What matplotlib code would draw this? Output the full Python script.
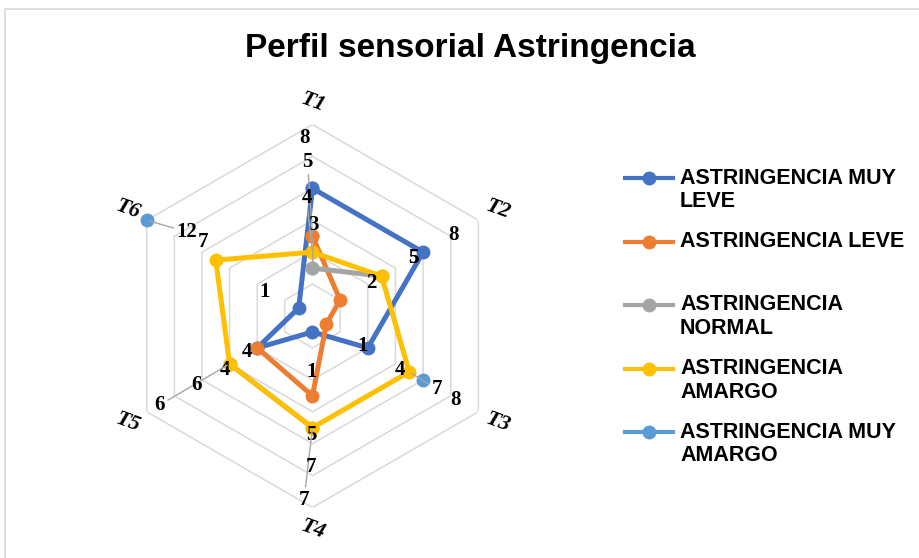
import numpy as np
import matplotlib
matplotlib.use('Agg')
import matplotlib.pyplot as plt
from matplotlib.lines import Line2D
from matplotlib.patches import Rectangle

nan = np.nan
categories = ['T1', 'T2', 'T3', 'T4', 'T5', 'T6']
muy_leve = [8, 8, 4, 1, 4, 1]
leve = [5, 2, 1, 5, 4, nan]
normal = [3, 5, nan, 7, 6, nan]
amargo = [4, 5, 7, 7, 6, 7]
muy_amargo = [nan, nan, 8, nan, nan, 12]

series = [muy_leve, leve, normal, amargo, muy_amargo]
names = ['ASTRINGENCIA MUY\nLEVE', 'ASTRINGENCIA LEVE', 'ASTRINGENCIA\nNORMAL',
         'ASTRINGENCIA\nAMARGO', 'ASTRINGENCIA MUY\nAMARGO']
colors = ['#4472C4', '#ED7D31', '#A5A5A5', '#FFC000', '#5B9BD5']
show_line = [True, True, True, True, False]

# data label placement: (series, category, dx px, dy px, leader line)
label_pos = [
    (0, 0, -7.5, -50, False), (0, 1, 30, -17, False), (0, 2, 32, 22, False),
    (0, 3, -1, 40, False), (0, 4, -10.5, 4, False), (0, 5, -34, -16, False),
    (1, 0, -5, -74.5, True), (1, 1, 31.6, -16.7, False), (1, 2, 36, 21.7, False),
    (1, 3, -1, 39, False), (1, 4, -32, 22, False),
    (2, 0, 1, -43, True), (2, 1, 32, -18, False), (2, 3, -8.5, 72, True),
    (2, 4, -69.6, 41, True),
    (3, 0, -6, -54, True), (3, 1, 31.7, -17.8, False), (3, 2, 27.5, 17.4, True),
    (3, 3, -1, 39, False), (3, 4, -33, 21, False), (3, 5, -13, -18, False),
    (4, 2, 32, 20, False), (4, 5, 40, 11.5, True),
]

W, H = 920, 558
fig = plt.figure(figsize=(9.2, 5.58), dpi=100)
fig.patches.append(Rectangle((5 / W, -0.1), 1.2, 1.1 - 9 / H, transform=fig.transFigure,
                             fill=False, edgecolor='#D9D9D9', lw=1.2))

cx, cy, R = 312.5, 316, 191.5
ax = fig.add_axes([(cx - R) / W, (H - cy - R) / H, 2 * R / W, 2 * R / H], projection='polar')
ax.set_theta_offset(np.pi / 2)
ax.set_theta_direction(-1)
ax.set_ylim(0, 12)
ax.grid(False)
ax.spines['polar'].set_visible(False)
ax.set_xticks([])
ax.set_yticks([])
ax.patch.set_alpha(0)

angles = np.arange(6) * 2 * np.pi / 6
ang_closed = np.append(angles, angles[0])

for r in range(2, 13, 2):
    ax.plot(ang_closed, [r] * 7, color='#D9D9D9', lw=1.1, zorder=1)

for i, vals in enumerate(series):
    v = np.append(vals, vals[0])
    ax.plot(ang_closed, v, color=colors[i], lw=3.6 if show_line[i] else 0,
            marker='o', ms=9, zorder=3 + i, clip_on=False)

for s, c, dx, dy, leader in label_pos:
    val = series[s][c]
    kw = {}
    if leader:
        kw['arrowprops'] = dict(arrowstyle='-', color='#A6A6A6', lw=1, shrinkA=0, shrinkB=2)
    ax.annotate(str(int(val)), xy=(angles[c], val), xytext=(dx * 0.72, -dy * 0.72),
                textcoords='offset points', ha='center', va='center',
                family='Liberation Serif', weight='bold', fontsize=15, zorder=10,
                annotation_clip=False, **kw)

for k, cat in enumerate(categories):
    ax.text(angles[k], 13.4, cat, ha='center', va='center', rotation=-20,
            family='Liberation Serif', weight='bold', style='italic', fontsize=16)

fig.text(470 / W, 1 - 48 / H, 'Perfil sensorial Astringencia', ha='center', va='center',
         family='Liberation Sans', weight='bold', fontsize=24)

# legend
leg_top, leg_step = 178, 63.5
for i, name in enumerate(names):
    y = 1 - (leg_top + i * leg_step) / H
    fig.add_artist(Line2D([625 / W, 673 / W], [y, y], transform=fig.transFigure,
                          color=colors[i], lw=3))
    fig.add_artist(Line2D([649 / W], [y], transform=fig.transFigure, color=colors[i],
                          marker='o', ms=9))
    for j, line in enumerate(name.split('\n')):
        fig.text(680 / W, y - j * 23.5 / H, line, ha='left', va='center',
                 family='Liberation Sans', weight='bold', fontsize=15.5)

fig.savefig('out.png', dpi=100)
